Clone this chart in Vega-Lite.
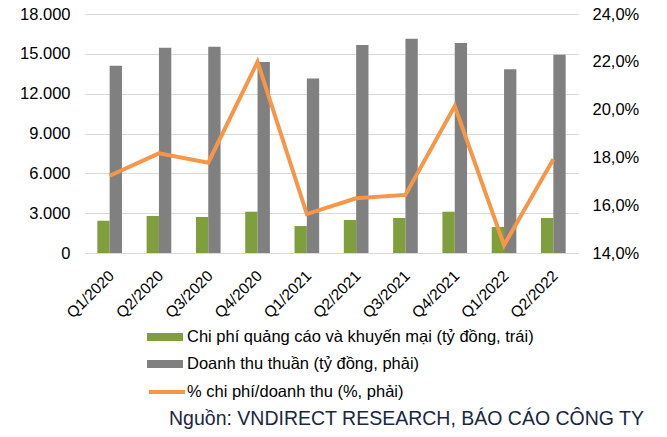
{
  "$schema": "https://vega.github.io/schema/vega-lite/v6.json",
  "width": 493,
  "height": 239,
  "autosize": {"type": "none"},
  "padding": {"left": 85, "top": 14, "right": 89, "bottom": 184},
  "background": "white",
  "config": {
    "locale": {"number": {"decimal": ",", "thousands": ".", "grouping": [3], "currency": ["", ""]}},
    "font": "Liberation Sans",
    "view": {"stroke": null},
    "axis": {"labelFont": "Liberation Sans", "labelColor": "#000000", "ticks": false, "domain": false, "title": null}
  },
  "title": {
    "text": "Nguồn: VNDIRECT RESEARCH, BÁO CÁO CÔNG TY",
    "orient": "bottom",
    "anchor": "end",
    "frame": "group",
    "font": "Liberation Sans",
    "fontSize": 19.5,
    "fontWeight": "normal",
    "color": "#1A2740",
    "offset": 9,
    "dx": 66
  },
  "datasets": {
    "bars": [
      {"quy": "Q1/2020", "chuoi": "Chi phí quảng cáo và khuyến mại (tỷ đồng, trái)", "gia_tri": 2430},
      {"quy": "Q1/2020", "chuoi": "Doanh thu thuần (tỷ đồng, phải)", "gia_tri": 14100},
      {"quy": "Q2/2020", "chuoi": "Chi phí quảng cáo và khuyến mại (tỷ đồng, trái)", "gia_tri": 2790},
      {"quy": "Q2/2020", "chuoi": "Doanh thu thuần (tỷ đồng, phải)", "gia_tri": 15450},
      {"quy": "Q3/2020", "chuoi": "Chi phí quảng cáo và khuyến mại (tỷ đồng, trái)", "gia_tri": 2710},
      {"quy": "Q3/2020", "chuoi": "Doanh thu thuần (tỷ đồng, phải)", "gia_tri": 15530},
      {"quy": "Q4/2020", "chuoi": "Chi phí quảng cáo và khuyến mại (tỷ đồng, trái)", "gia_tri": 3110},
      {"quy": "Q4/2020", "chuoi": "Doanh thu thuần (tỷ đồng, phải)", "gia_tri": 14380},
      {"quy": "Q1/2021", "chuoi": "Chi phí quảng cáo và khuyến mại (tỷ đồng, trái)", "gia_tri": 2030},
      {"quy": "Q1/2021", "chuoi": "Doanh thu thuần (tỷ đồng, phải)", "gia_tri": 13150},
      {"quy": "Q2/2021", "chuoi": "Chi phí quảng cáo và khuyến mại (tỷ đồng, trái)", "gia_tri": 2490},
      {"quy": "Q2/2021", "chuoi": "Doanh thu thuần (tỷ đồng, phải)", "gia_tri": 15660},
      {"quy": "Q3/2021", "chuoi": "Chi phí quảng cáo và khuyến mại (tỷ đồng, trái)", "gia_tri": 2640},
      {"quy": "Q3/2021", "chuoi": "Doanh thu thuần (tỷ đồng, phải)", "gia_tri": 16140},
      {"quy": "Q4/2021", "chuoi": "Chi phí quảng cáo và khuyến mại (tỷ đồng, trái)", "gia_tri": 3110},
      {"quy": "Q4/2021", "chuoi": "Doanh thu thuần (tỷ đồng, phải)", "gia_tri": 15810},
      {"quy": "Q1/2022", "chuoi": "Chi phí quảng cáo và khuyến mại (tỷ đồng, trái)", "gia_tri": 1960},
      {"quy": "Q1/2022", "chuoi": "Doanh thu thuần (tỷ đồng, phải)", "gia_tri": 13830},
      {"quy": "Q2/2022", "chuoi": "Chi phí quảng cáo và khuyến mại (tỷ đồng, trái)", "gia_tri": 2640},
      {"quy": "Q2/2022", "chuoi": "Doanh thu thuần (tỷ đồng, phải)", "gia_tri": 14930}
    ],
    "ratio": [
      {"quy": "Q1/2020", "chuoi": "% chi phí/doanh thu (%, phải)", "ty_le": 0.1723},
      {"quy": "Q2/2020", "chuoi": "% chi phí/doanh thu (%, phải)", "ty_le": 0.1817},
      {"quy": "Q3/2020", "chuoi": "% chi phí/doanh thu (%, phải)", "ty_le": 0.1778},
      {"quy": "Q4/2020", "chuoi": "% chi phí/doanh thu (%, phải)", "ty_le": 0.2200},
      {"quy": "Q1/2021", "chuoi": "% chi phí/doanh thu (%, phải)", "ty_le": 0.1563},
      {"quy": "Q2/2021", "chuoi": "% chi phí/doanh thu (%, phải)", "ty_le": 0.1629},
      {"quy": "Q3/2021", "chuoi": "% chi phí/doanh thu (%, phải)", "ty_le": 0.1643},
      {"quy": "Q4/2021", "chuoi": "% chi phí/doanh thu (%, phải)", "ty_le": 0.2015},
      {"quy": "Q1/2022", "chuoi": "% chi phí/doanh thu (%, phải)", "ty_le": 0.1433},
      {"quy": "Q2/2022", "chuoi": "% chi phí/doanh thu (%, phải)", "ty_le": 0.1792}
    ]
  },
  "encoding": {
    "x": {
      "field": "quy",
      "type": "nominal",
      "sort": null,
      "scale": {"paddingInner": 0.5, "paddingOuter": 0.25},
      "axis": {"labelAngle": -45, "labelFontSize": 15.5, "labelPadding": 15, "labelOffset": -3, "grid": false}
    }
  },
  "layer": [
    {
      "data": {"name": "bars"},
      "mark": {"type": "bar"},
      "encoding": {
        "xOffset": {"field": "chuoi", "type": "nominal", "sort": null},
        "y": {
          "field": "gia_tri",
          "type": "quantitative",
          "scale": {"domain": [0, 18000], "nice": false},
          "axis": {"values": [0, 3000, 6000, 9000, 12000, 15000, 18000], "format": ",.0f", "labelFontSize": 16.5, "labelPadding": 15, "grid": true, "gridColor": "#D9D9D9", "gridWidth": 1.2}
        },
        "fill": {
          "field": "chuoi",
          "type": "nominal",
          "sort": null,
          "scale": {"range": ["#7F9F3F", "#808080"]},
          "legend": {
            "orient": "none",
            "legendX": 62,
            "legendY": 305,
            "title": null,
            "padding": 0,
            "symbolType": "M-1,-0.22H1V0.22H-1Z",
            "symbolSize": 1296,
            "symbolStrokeWidth": 0,
            "labelFont": "Liberation Sans",
            "labelFontSize": 16.5,
            "labelColor": "#000000",
            "labelOffset": 4,
            "rowPadding": -10,
            "labelLimit": 600
          }
        }
      }
    },
    {
      "data": {"name": "ratio"},
      "mark": {"type": "line", "strokeWidth": 4},
      "encoding": {
        "y": {
          "field": "ty_le",
          "type": "quantitative",
          "scale": {"domain": [0.14, 0.24], "nice": false},
          "axis": {"orient": "right", "values": [0.14, 0.16, 0.18, 0.2, 0.22, 0.24], "format": ".1%", "labelFontSize": 16.5, "labelPadding": 14, "grid": false}
        },
        "stroke": {
          "field": "chuoi",
          "type": "nominal",
          "scale": {"range": ["#F79646"]},
          "legend": {
            "orient": "none",
            "legendX": 62,
            "legendY": 358,
            "title": null,
            "padding": 0,
            "symbolType": "stroke",
            "symbolSize": 1296,
            "symbolStrokeWidth": 4,
            "labelFont": "Liberation Sans",
            "labelFontSize": 16.5,
            "labelColor": "#000000",
            "labelOffset": 0,
            "labelLimit": 600
          }
        }
      }
    }
  ],
  "resolve": {"scale": {"y": "independent"}}
}
